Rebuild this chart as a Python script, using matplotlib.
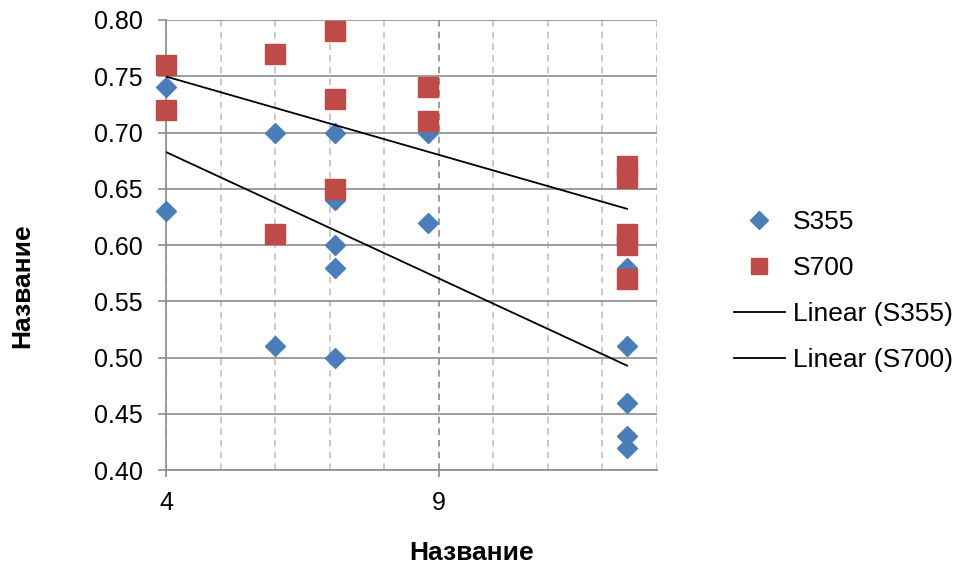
import numpy as np
import matplotlib
matplotlib.use("Agg")
import matplotlib.pyplot as plt
from matplotlib.ticker import MultipleLocator, FormatStrFormatter

plt.rcParams['font.family'] = ['Liberation Sans', 'DejaVu Sans']

# S355 data
x_s355 = [4, 4, 6, 6, 7.1, 7.1, 7.1, 7.1, 7.1, 8.8, 8.8, 12.45, 12.45, 12.45, 12.45, 12.45]
y_s355 = [0.74, 0.63, 0.70, 0.51, 0.70, 0.64, 0.60, 0.58, 0.50, 0.70, 0.62, 0.58, 0.51, 0.46, 0.43, 0.42]

# S700 data
x_s700 = [4, 4, 6, 6, 7.1, 7.1, 7.1, 8.8, 8.8, 12.45, 12.45, 12.45, 12.45, 12.45]
y_s700 = [0.76, 0.72, 0.77, 0.61, 0.79, 0.73, 0.65, 0.74, 0.71, 0.67, 0.66, 0.61, 0.60, 0.57]

x_ticks = [4, 9]
axis_title = "Название"

fig = plt.figure(figsize=(9.55, 5.7), dpi=100)
ax = fig.add_axes([0.174, 0.175, 0.514, 0.79])

ax.set_xlim(4, 13)
ax.set_ylim(0.40, 0.80)
ax.set_xticks(x_ticks)
ax.xaxis.set_minor_locator(MultipleLocator(1))
ax.yaxis.set_major_locator(MultipleLocator(0.05))
ax.yaxis.set_major_formatter(FormatStrFormatter('%.2f'))

# grid
ax.grid(True, which='major', axis='y', color='#8c8c8c', lw=1.2, ls='-')
ax.grid(True, which='major', axis='x', color='#8c8c8c', lw=1.2, ls=(0, (4, 3)))
ax.grid(True, which='minor', axis='x', color='#c0c0c0', lw=1.2, ls=(0, (4, 3)))
ax.axvline(13, color='#c0c0c0', lw=1.2, ls=(0, (4, 3)), zorder=0.5)
ax.set_axisbelow(True)

for side in ['top', 'right']:
    ax.spines[side].set_visible(False)
for side in ['left', 'bottom']:
    ax.spines[side].set_color('#8c8c8c')
    ax.spines[side].set_linewidth(1.2)

ax.tick_params(axis='x', which='major', length=5, color='#8c8c8c', width=1.2,
               labelsize=18, pad=10)
ax.tick_params(axis='y', which='major', length=6, color='#8c8c8c', width=1.2,
               labelsize=18, pad=11)
ax.tick_params(axis='x', which='minor', length=0)

ax.plot(x_s355, y_s355, ls='none', marker='D', ms=10.5, color='#4a7ebb',
        markeredgecolor='#4a7ebb', label='S355', zorder=3, clip_on=False)
ax.plot(x_s700, y_s700, ls='none', marker='s', ms=14, color='#be4b48',
        markeredgecolor='#be4b48', label='S700', zorder=3, clip_on=False)

# linear trendlines
for xs, ys, name in [(x_s355, y_s355, 'S355'), (x_s700, y_s700, 'S700')]:
    k, b = np.polyfit(xs, ys, 1)
    xl = np.array([min(xs), max(xs)])
    ax.plot(xl, k * xl + b, color='black', lw=1.3, label='Linear (' + name + ')', zorder=4)

fig.text(472 / 955, 1 - 553 / 570, axis_title, fontsize=19, fontweight='bold',
         ha='center', va='center')
fig.text(22 / 955, 1 - 286 / 570, axis_title, fontsize=19, fontweight='bold',
         ha='center', va='center', rotation=90)

leg = fig.legend(loc='center left', bbox_to_anchor=(710 / 955, 1 - 291 / 570),
                 frameon=False, fontsize=19, handlelength=1.95, handletextpad=0.28,
                 labelspacing=0.84, markerscale=0.85)

fig.savefig('out.png', dpi=100)
